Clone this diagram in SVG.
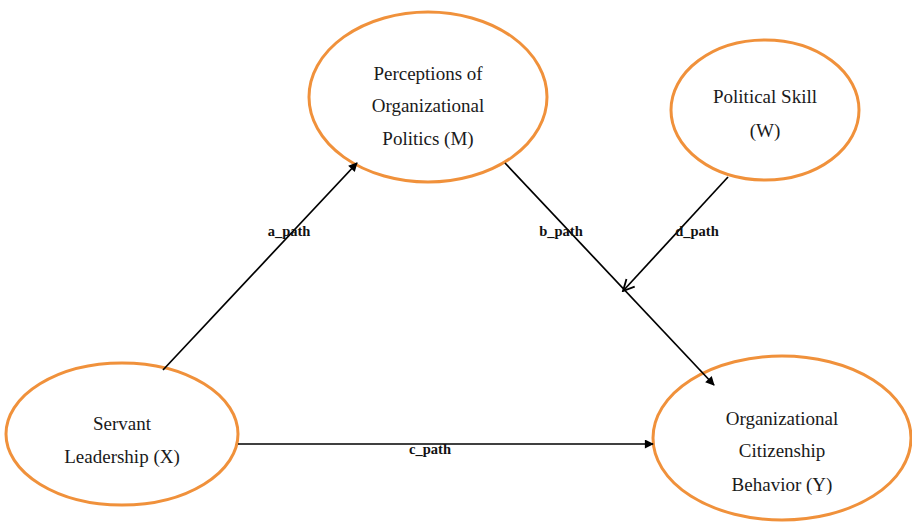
<svg xmlns="http://www.w3.org/2000/svg" width="912" height="522" viewBox="0 0 912 522">
  <style>
    .node ellipse { fill: #ffffff; stroke: #f0913b; stroke-width: 3; }
    .node text { font-size: 19px; fill: #1a1a1a; text-anchor: middle; }
    .edge { stroke: #000; stroke-width: 1.7; fill: none; }
    .lbl { font-size: 14.5px; font-weight: bold; fill: #111; text-anchor: middle; }
  </style>
  <defs>
    <marker id="solid" viewBox="0 0 10 10" refX="9" refY="5" markerWidth="10" markerHeight="9" markerUnits="userSpaceOnUse" orient="auto">
      <path d="M0,0 L10,5 L0,10 Z" fill="#000"/>
    </marker>
    <marker id="open" viewBox="0 0 10 10" refX="9" refY="5" markerWidth="14" markerHeight="14" markerUnits="userSpaceOnUse" orient="auto">
      <path d="M1,1 L9,5 L1,9" fill="none" stroke="#000" stroke-width="1.3"/>
    </marker>
  </defs>

  <rect width="912" height="522" fill="#ffffff"/>

  <g font-family="'Liberation Serif', 'Times New Roman', serif">
    <g id="node-m" class="node">
      <ellipse cx="428" cy="97" rx="119" ry="85"/>
      <text x="428" y="80">Perceptions of</text>
      <text x="428" y="112">Organizational</text>
      <text x="428" y="145">Politics (M)</text>
    </g>

    <g id="node-w" class="node">
      <ellipse cx="765" cy="110" rx="94" ry="70"/>
      <text x="765" y="103">Political Skill</text>
      <text x="765" y="137">(W)</text>
    </g>

    <g id="node-x" class="node">
      <ellipse cx="122" cy="434" rx="116" ry="71"/>
      <text x="122" y="430">Servant</text>
      <text x="122" y="463">Leadership (X)</text>
    </g>

    <g id="node-y" class="node">
      <ellipse cx="782" cy="438" rx="129" ry="82"/>
      <text x="782" y="425">Organizational</text>
      <text x="782" y="457">Citizenship</text>
      <text x="782" y="491">Behavior (Y)</text>
    </g>

    <g id="connectors">
      <line class="edge" x1="163" y1="370" x2="357" y2="163" marker-end="url(#solid)"/>
      <line class="edge" x1="505" y1="163" x2="714" y2="385" marker-end="url(#solid)"/>
      <line class="edge" x1="728" y1="177" x2="623" y2="291" marker-end="url(#open)"/>
      <line class="edge" x1="238" y1="444" x2="653" y2="444" marker-end="url(#solid)"/>
      <text class="lbl" x="289" y="236">a_path</text>
      <text class="lbl" x="561" y="236">b_path</text>
      <text class="lbl" x="697" y="236">d_path</text>
      <text class="lbl" x="430" y="454">c_path</text>
    </g>
  </g>
</svg>
